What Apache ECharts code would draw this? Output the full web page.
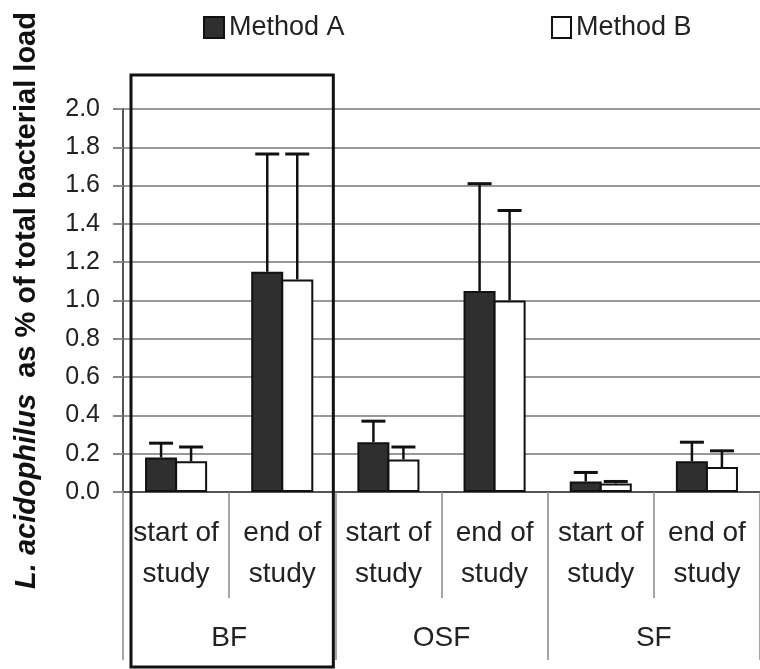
<!DOCTYPE html>
<html>
<head>
<meta charset="utf-8">
<script src="https://cdn.jsdelivr.net/npm/echarts@6/dist/echarts.min.js"></script>
<style>
html,body{margin:0;padding:0;background:#fff;}
#chart{width:760px;height:669px;}
</style>
</head>
<body>
<div id="chart"></div>
<script>
// ---- data ----
var subCategories = ['start of\nstudy', 'end of\nstudy', 'start of\nstudy', 'end of\nstudy', 'start of\nstudy', 'end of\nstudy'];
var groupCategories = ['BF', 'OSF', 'SF'];
var methodA = [0.18, 1.15, 0.26, 1.05, 0.055, 0.16];
var methodB = [0.16, 1.11, 0.17, 1.00, 0.045, 0.13];
var errA = [0.075, 0.615, 0.11, 0.56, 0.047, 0.10];
var errB = [0.075, 0.655, 0.065, 0.47, 0.01, 0.085];
var yTicks = { min: 0, max: 2.0, step: 0.2 };

// ---- styles ----
var FONT = '"Liberation Sans", Arial, Helvetica, sans-serif';
var BAR_W = 32;
var OFFSET = 15;
var darkFill = '#2f2f2f';

var chart = echarts.init(document.getElementById('chart'), null, { renderer: 'canvas' });

function errSeries(name, vals, errs, dx) {
  return {
    type: 'custom',
    name: name + ' err',
    xAxisIndex: 0,
    yAxisIndex: 0,
    z: 5,
    clip: false,
    silent: true,
    data: vals.map(function (v, i) { return [i, v, errs[i]]; }),
    encode: { x: 0, y: 1 },
    renderItem: function (params, api) {
      var i = api.value(0), v = api.value(1), e = api.value(2);
      var base = api.coord([i, v]);
      var top = api.coord([i, v + e]);
      var cx = base[0] + dx;
      var half = 12;
      return {
        type: 'group',
        children: [
          { type: 'line', shape: { x1: cx, y1: base[1], x2: cx, y2: top[1] }, style: { stroke: '#111', lineWidth: 2.5 } },
          { type: 'line', shape: { x1: cx - half, y1: top[1], x2: cx + half, y2: top[1] }, style: { stroke: '#111', lineWidth: 3 } }
        ]
      };
    }
  };
}

var option = {
  animation: false,
  backgroundColor: '#fff',
  textStyle: { fontFamily: FONT },
  legend: [
    {
      data: ['Method A'], left: 198, top: 9, icon: 'rect',
      itemWidth: 20, itemHeight: 21, itemGap: 10,
      textStyle: { fontFamily: FONT, fontSize: 27, color: '#222' }
    },
    {
      data: ['Method B'], left: 546, top: 9, icon: 'rect',
      itemWidth: 19, itemHeight: 21, itemGap: 10,
      textStyle: { fontFamily: FONT, fontSize: 27, color: '#222' }
    }
  ],
  grid: { left: 123, right: -8, top: 109, bottom: 177, containLabel: false },
  xAxis: [
    {
      type: 'category',
      data: subCategories,
      position: 'bottom',
      axisLine: { show: true, lineStyle: { color: '#555', width: 2 } },
      axisTick: { show: true, alignWithLabel: false, length: 106, interval: 0, lineStyle: { color: '#888', width: 1.5 } },
      axisLabel: { interval: 0, margin: 21, fontFamily: FONT, fontSize: 28, lineHeight: 41, color: '#222' },
      splitLine: { show: false }
    },
    {
      type: 'category',
      data: groupCategories,
      position: 'bottom',
      offset: 0,
      axisLine: { show: false },
      axisTick: { show: true, alignWithLabel: false, length: 168, interval: 0, lineStyle: { color: '#888', width: 1.5 } },
      axisLabel: { interval: 0, margin: 132, fontFamily: FONT, fontSize: 28, color: '#222' },
      splitLine: { show: false }
    }
  ],
  yAxis: {
    type: 'value',
    min: yTicks.min,
    max: yTicks.max,
    interval: yTicks.step,
    name: '{i|L. acidophilus}{n|  as % of total bacterial load}',
    nameLocation: 'middle',
    nameRotate: 90,
    nameGap: 82,
    nameTextStyle: {
      rich: {
        i: { fontFamily: FONT, fontSize: 29, fontWeight: 'bold', fontStyle: 'italic', color: '#111' },
        n: { fontFamily: FONT, fontSize: 29, fontWeight: 'bold', color: '#111' }
      }
    },
    axisLine: { show: true, lineStyle: { color: '#555', width: 2 } },
    axisTick: { show: true, length: 10, lineStyle: { color: '#888', width: 2 } },
    axisLabel: {
      margin: 23, fontFamily: FONT, fontSize: 25, color: '#222',
      formatter: function (v) { return v.toFixed(1); }
    },
    splitLine: { show: true, lineStyle: { color: '#999', width: 2 } }
  },
  series: [
    {
      name: 'Method A',
      type: 'bar',
      xAxisIndex: 0,
      data: methodA,
      barWidth: BAR_W,
      barGap: '-6%',
      itemStyle: { color: darkFill, borderColor: '#111', borderWidth: 2 },
      z: 3
    },
    {
      name: 'Method B',
      type: 'bar',
      xAxisIndex: 0,
      data: methodB,
      barWidth: BAR_W,
      barGap: '-6%',
      itemStyle: { color: '#fff', borderColor: '#111', borderWidth: 2 },
      z: 3
    },
    errSeries('Method A', methodA, errA, -OFFSET),
    errSeries('Method B', methodB, errB, OFFSET)
  ]
};

chart.setOption(option);

// Highlight frame around the BF group, positioned from the category axis scale
function drawFrame() {
  var c0 = chart.convertToPixel({ xAxisIndex: 0 }, 0);
  var c1 = chart.convertToPixel({ xAxisIndex: 0 }, 1);
  var band = c1 - c0;
  var left = c0 - band / 2 + 8;
  var right = c1 + band / 2 - 2;
  var yTop = chart.convertToPixel({ yAxisIndex: 0 }, 2.0) - 34;
  var yBottom = 667;
  chart.setOption({
    graphic: [{
      type: 'rect',
      z: 100,
      silent: true,
      shape: { x: left, y: yTop, width: right - left, height: yBottom - yTop },
      style: { fill: null, stroke: '#111', lineWidth: 3 }
    }]
  });
}
drawFrame();
</script>
</body>
</html>
